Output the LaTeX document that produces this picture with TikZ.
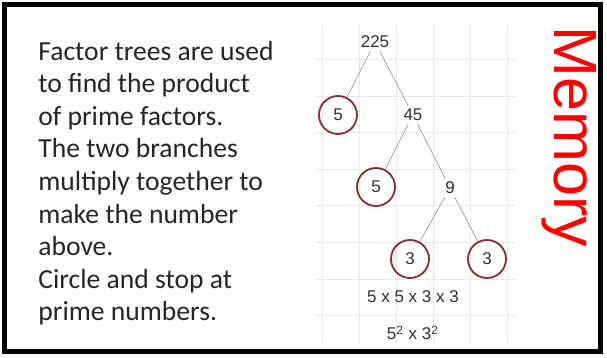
\documentclass[tikz,border=0pt]{standalone}
\usepackage{fontspec}
\setmainfont{Carlito}
\newfontfamily\treefont{Liberation Sans}
\usepackage{tikz}
\usetikzlibrary{positioning}
\definecolor{ringred}{HTML}{8A2E35}
\definecolor{inkgray}{HTML}{333333}
\tikzset{
  line cap=round,
  line join=round,
  frame/.style={line width=2.5pt},
  gridline/.style={draw=gray!18, line width=0.5pt},
  num/.style={font=\treefont\fontsize{8.5}{10}\selectfont, text=inkgray, inner sep=1.5pt},
  prime/.style={num, circle, draw=ringred, line width=0.9pt, minimum size=19pt},
  branch/.style={draw=gray!70, line width=0.4pt},
  notes/.style={align=left, text=black!85, inner sep=0pt,
    font=\fontsize{13.8}{16.3}\selectfont}
}

\begin{document}
\begin{tikzpicture}[x=0.5pt, y=-0.5pt]
  \useasboundingbox (0,0) rectangle (607,358);
  \fill[white] (0,0) rectangle (607,358);

  % squared paper behind the tree
  \foreach \gx in {322,359,396,433,470,507}
    \draw[gridline] (\gx,25) -- (\gx,343);
  \foreach \gy in {60,96.5,133,170,206,243,280,316}
    \draw[gridline] (315,\gy) -- (515,\gy);

  % base of a multi-line node is its last line
  \node[notes, anchor=base west] (txt) at (38,321) {Factor trees are used\\
    to find the product\\ of prime factors.\\ The two branches\\
    multiply together to\\ make the number\\ above.\\
    Circle and stop at\\ prime numbers.};

  % the factor tree
  \node[num] (n225) at (375,42) {225};
  \node[prime] (p5a) at (338,115) {5};
  \node[num] (n45) at (413,115) {45};
  \node[prime] (p5b) at (376,187) {5};
  \node[num] (n9) at (450,188) {9};
  \node[prime] (p3a) at (410,259) {3};
  \node[prime] (p3b) at (487,259) {3};

  \draw[branch] (n225) -- (p5a);
  \draw[branch] (n225) -- (n45);
  \draw[branch] (n45) -- (p5b);
  \draw[branch] (n45) -- (n9);
  \draw[branch] (n9) -- (p3a);
  \draw[branch] (n9) -- (p3b);

  \node[num] (prod) at (413,297) {5 x 5 x 3 x 3};
  \node[num] (pows) at (413,333) {5\textsuperscript{2} x 3\textsuperscript{2}};

  \node[rotate=-90, text=red, inner sep=0pt,
    font=\treefont\fontsize{30.5}{30}\selectfont] (mem) at (569,137) {Memory};

  \draw[frame] (5,5) rectangle (600,352);
\end{tikzpicture}
\end{document}
